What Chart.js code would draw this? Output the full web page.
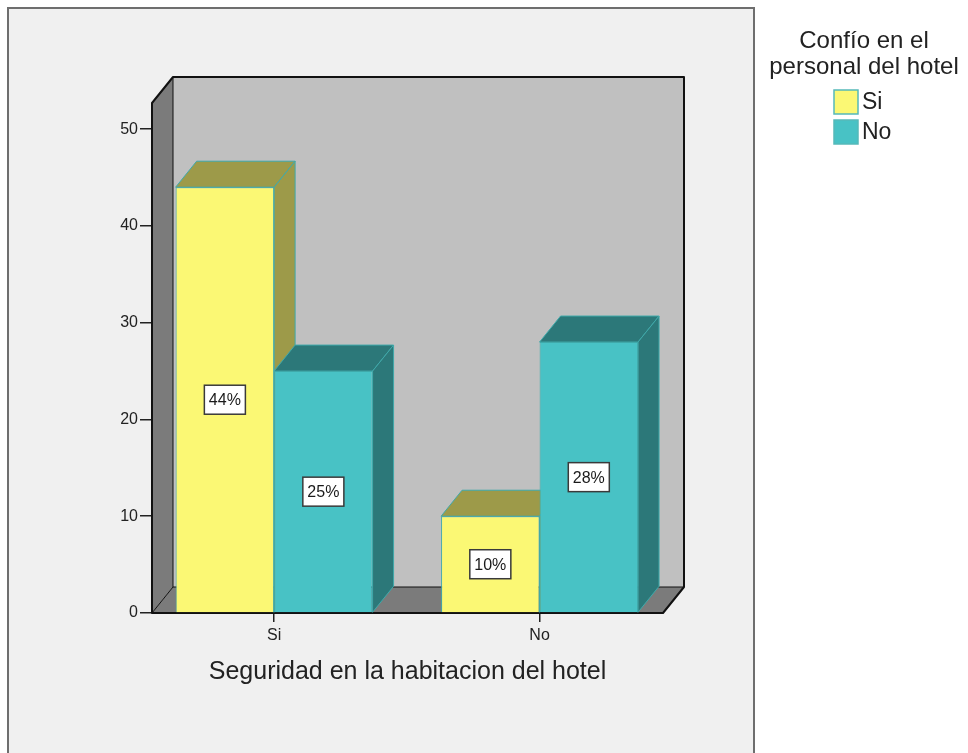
<!DOCTYPE html>
<html>
<head>
<meta charset="utf-8">
<title>Seguridad en la habitacion del hotel</title>
<script src="https://cdn.jsdelivr.net/npm/chart.js@4.4.0/dist/chart.umd.min.js"></script>
<style>
  body { margin: 0; background: #fff; }
  #wrap { width: 968px; height: 753px; }
</style>
</head>
<body>
<div id="wrap"><canvas id="barChart" width="968" height="753"></canvas></div>
<script>
// data
const categories = ['Si', 'No'];
const siValues = [44, 10];
const noValues = [25, 28];
const yTicks = [0, 10, 20, 30, 40, 50];
const seriesNames = ['Si', 'No'];
const legendTitle = ['Confío en el', 'personal del hotel'];
const axisTitle = 'Seguridad en la habitacion del hotel';

const FONT = '"Liberation Sans", Arial, sans-serif';
const DX = 21, DY = -26; // depth of the 3d box

const fronts = ['#fbf874', '#48c2c5'];
const shades = ['#9d9a49', '#2c7879'];
const edge = '#3fa9aa';

function poly(ctx, pts) {
    ctx.beginPath();
    ctx.moveTo(pts[0][0], pts[0][1]);
    for (let i = 1; i < pts.length; i++) ctx.lineTo(pts[i][0], pts[i][1]);
    ctx.closePath();
}

function seg(ctx, x1, y1, x2, y2) {
    ctx.beginPath();
    ctx.moveTo(x1, y1);
    ctx.lineTo(x2, y2);
    ctx.stroke();
}

const box3d = {
    id: 'box3d',
    beforeDraw(chart) {
        const ctx = chart.ctx;
        ctx.save();
        ctx.fillStyle = '#fff';
        ctx.fillRect(0, 0, chart.width, chart.height);
        ctx.fillStyle = '#f0f0f0';
        ctx.fillRect(8, 8, 746, 760);
        ctx.strokeStyle = '#6e6e6e';
        ctx.lineWidth = 2;
        ctx.strokeRect(8, 8, 746, 760);
        ctx.restore();
    },
    beforeDatasetsDraw(chart) {
        const ctx = chart.ctx;
        const a = chart.chartArea;
        const L = a.left, R = a.right, T = a.top, B = a.bottom;
        ctx.save();

        // back wall, left wall, floor
        ctx.fillStyle = '#c0c0c0';
        ctx.fillRect(L + DX, T + DY, R - L, B - T);
        ctx.fillStyle = '#7b7b7b';
        poly(ctx, [[L, T], [L + DX, T + DY], [L + DX, B + DY], [L, B]]);
        ctx.fill();
        poly(ctx, [[L, B], [L + DX, B + DY], [R + DX, B + DY], [R, B]]);
        ctx.fill();

        ctx.strokeStyle = '#111';
        ctx.lineWidth = 1;
        seg(ctx, L + DX, T + DY, L + DX, B + DY);
        seg(ctx, L + DX, B + DY, R + DX, B + DY);
        seg(ctx, L, B, L + DX, B + DY);

        ctx.lineWidth = 2;
        ctx.lineJoin = 'round';
        ctx.beginPath();
        ctx.moveTo(L, B);
        ctx.lineTo(L, T);
        ctx.lineTo(L + DX, T + DY);
        ctx.lineTo(R + DX, T + DY);
        ctx.lineTo(R + DX, B + DY);
        ctx.lineTo(R, B);
        ctx.closePath();
        ctx.stroke();

        // tops and sides of the bars, left to right
        ctx.lineWidth = 1;
        ctx.strokeStyle = edge;
        categories.forEach((c, i) => {
            chart.data.datasets.forEach((ds, d) => {
                const bar = chart.getDatasetMeta(d).data[i];
                const p = bar.getProps(['x', 'y', 'base', 'width'], true);
                const x1 = p.x - p.width / 2, x2 = p.x + p.width / 2;
                ctx.fillStyle = shades[d];
                poly(ctx, [[x1, p.y], [x2, p.y], [x2 + DX, p.y + DY], [x1 + DX, p.y + DY]]);
                ctx.fill();
                ctx.stroke();
                poly(ctx, [[x2, p.y], [x2 + DX, p.y + DY], [x2 + DX, p.base + DY], [x2, p.base]]);
                ctx.fill();
                ctx.stroke();
            });
        });
        ctx.restore();
    },
    afterDatasetsDraw(chart) {
        const ctx = chart.ctx;
        ctx.save();
        ctx.font = '16px ' + FONT;
        ctx.textAlign = 'center';
        ctx.textBaseline = 'middle';
        chart.data.datasets.forEach((ds, d) => {
            chart.getDatasetMeta(d).data.forEach((bar, i) => {
                const p = bar.getProps(['x', 'y', 'base'], true);
                const text = ds.data[i].y + '%';
                const w = ctx.measureText(text).width + 9;
                const h = 29;
                const cy = (p.y + p.base) / 2;
                ctx.fillStyle = '#fff';
                ctx.fillRect(p.x - w / 2, cy - h / 2, w, h);
                ctx.strokeStyle = '#3a3a3a';
                ctx.lineWidth = 1.5;
                ctx.strokeRect(p.x - w / 2, cy - h / 2, w, h);
                ctx.fillStyle = '#1a1a1a';
                ctx.fillText(text, p.x, cy + 1);
            });
        });
        ctx.restore();
    },
    afterDraw(chart) {
        // legend on the right
        const ctx = chart.ctx;
        ctx.save();
        ctx.fillStyle = '#222';
        ctx.font = '24px ' + FONT;
        ctx.textAlign = 'center';
        ctx.textBaseline = 'middle';
        legendTitle.forEach((t, i) => ctx.fillText(t, 864, 41 + i * 26));
        ctx.font = '23px ' + FONT;
        ctx.textAlign = 'left';
        chart.data.datasets.forEach((ds, d) => {
            const y = 102 + d * 30;
            ctx.fillStyle = ds.backgroundColor;
            ctx.fillRect(834, y - 12, 24, 24);
            ctx.strokeStyle = '#55b9b9';
            ctx.lineWidth = 1.5;
            ctx.strokeRect(834, y - 12, 24, 24);
            ctx.fillStyle = '#222';
            ctx.fillText(ds.label, 862, y + 1);
        });
        ctx.restore();
    }
};

const ctx = document.getElementById('barChart').getContext('2d');
new Chart(ctx, {
    type: 'bar',
    data: {
        datasets: [{
            label: seriesNames[0],
            data: categories.map((c, i) => ({ x: i, y: siValues[i] })),
            backgroundColor: fronts[0],
            borderColor: edge,
            borderWidth: 1
        }, {
            label: seriesNames[1],
            data: categories.map((c, i) => ({ x: i, y: noValues[i] })),
            backgroundColor: fronts[1],
            borderColor: edge,
            borderWidth: 1
        }]
    },
    options: {
        responsive: false,
        animation: false,
        devicePixelRatio: 1,
        categoryPercentage: 0.742,
        barPercentage: 1,
        layout: { padding: { left: 0, top: 103, right: 305, bottom: 0 } },
        plugins: {
            legend: { display: false },
            tooltip: { enabled: false }
        },
        scales: {
            x: {
                type: 'linear',
                min: -0.46,
                max: 1.465,
                offset: false,
                afterBuildTicks: s => { s.ticks = categories.map((c, i) => ({ value: i })); },
                afterFit: s => { s.height = 140; },
                grid: { offset: false, drawOnChartArea: false, tickLength: 9, color: '#222', lineWidth: 1.5 },
                border: { display: false },
                ticks: {
                    callback: v => categories[v],
                    font: { size: 16, family: FONT },
                    color: '#222',
                    padding: 4,
                    autoSkip: false,
                    maxRotation: 0
                },
                title: {
                    display: true,
                    text: axisTitle,
                    font: { size: 25, family: FONT },
                    color: '#222',
                    padding: { top: 0, bottom: 66 }
                }
            },
            y: {
                min: 0,
                max: 52.7,
                afterBuildTicks: s => { s.ticks = yTicks.map(v => ({ value: v })); },
                afterFit: s => { s.width = 152; },
                grid: { drawOnChartArea: false, tickLength: 12, color: '#222', lineWidth: 1.5 },
                border: { display: false },
                ticks: {
                    font: { size: 16, family: FONT },
                    color: '#222',
                    padding: 2
                }
            }
        }
    },
    plugins: [box3d]
});
</script>
</body>
</html>
